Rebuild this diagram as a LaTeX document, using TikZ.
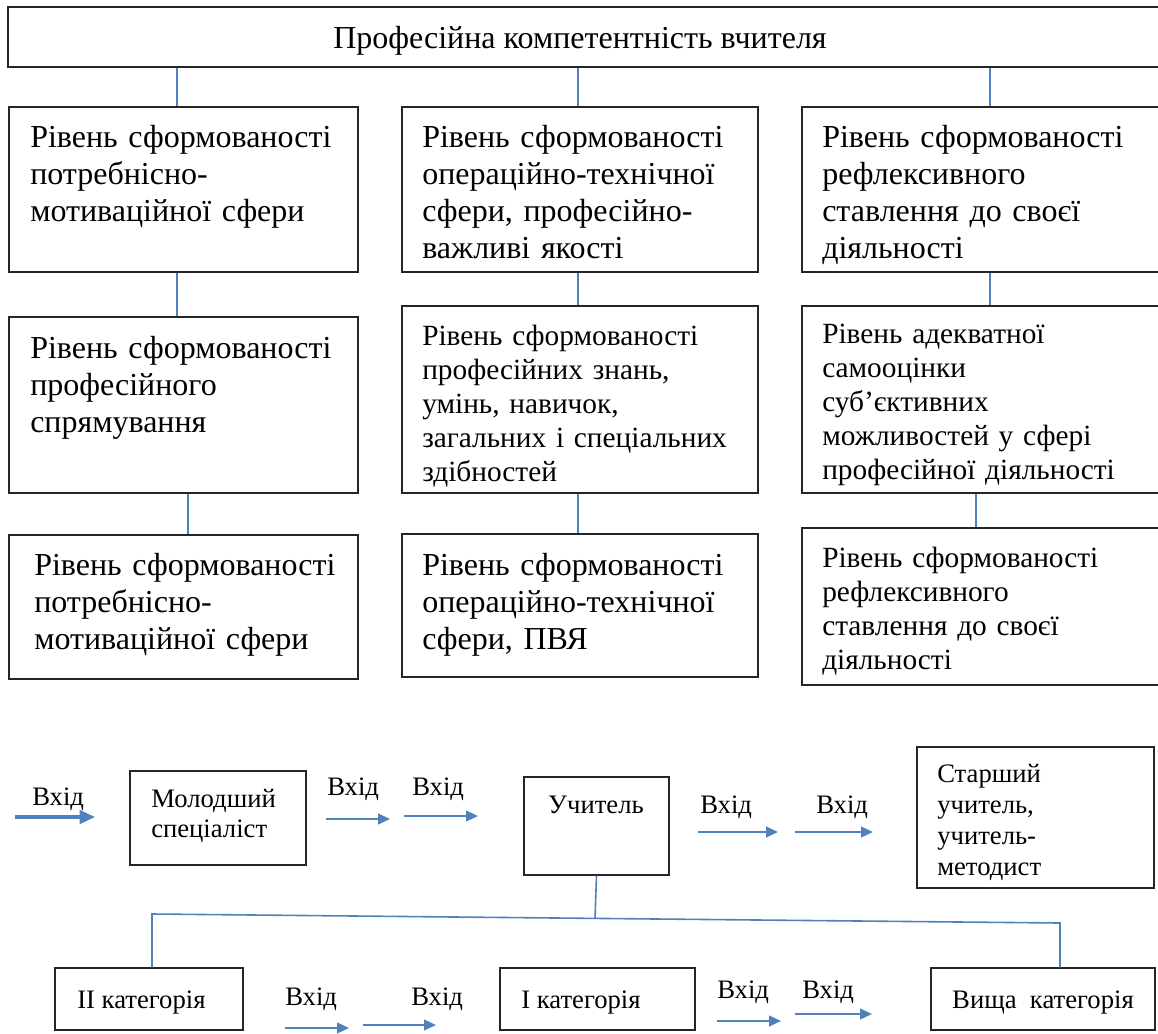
\documentclass[tikz,border=0pt]{standalone}
\usepackage{fontspec}
\setmainfont{Liberation Serif}
\usetikzlibrary{positioning, fit, arrows.meta}
\definecolor{linkblue}{RGB}{79,129,189}
\tikzset{
        box/.style={draw=black!85, line width=0.9pt, inner sep=0pt}, % frame of every block
        lvltext/.style={anchor=base west, align=left, inner sep=0pt, text width=265pt,
                font=\fontsize{24}{27.75}\selectfont},
        lvlsmall/.style={lvltext, font=\fontsize{22}{25.5}\selectfont},
        steptext/.style={anchor=base west, align=left, inner sep=0pt, text width=170pt,
                font=\fontsize{20}{23}\selectfont},
        inlabel/.style={anchor=base west, inner sep=0pt, font=\fontsize{20}{23}\selectfont},
        link/.style={draw=linkblue, line width=1.2pt}, % plain blue connector
        go/.style={draw=linkblue, line width=1.7pt, -{Triangle[length=9pt,width=8pt]}},
        biggo/.style={go, line width=2.5pt, -{Triangle[length=11.5pt,width=10pt]}},
        }

\begin{document}
\begin{tikzpicture}[x=0.75pt, y=-0.75pt]
        \useasboundingbox (0,0) rectangle (1158,1033);

        % top block
        \node[box, fit={(8,7)(1162,67)}] (top) {};
        \node[anchor=base, inner sep=0pt, font=\fontsize{24}{27.75}\selectfont] (toptext) at (580,48)
                {Професійна компетентність вчителя};

        % first row
        \node[box, fit={(9,107)(358,272)}] (b11) {};
        \node[box, fit={(402,107)(758,272)}] (b12) {};
        \node[box, fit={(802,107)(1162,272)}] (b13) {};
        \node[lvltext] (t11) at (30,147) {Рівень сформованості\\потребнісно-\\мотиваційної сфери};
        \node[lvltext] (t12) at (422,147) {Рівень сформованості\\операційно-технічної\\сфери, професійно-\\важливі якості};
        \node[lvltext] (t13) at (822,147) {Рівень сформованості\\рефлексивного\\ставлення до своєї\\діяльності};

        % second row
        \node[box, fit={(9,317)(358,493)}] (b21) {};
        \node[box, fit={(402,306)(758,493)}] (b22) {};
        \node[box, fit={(802,306)(1162,493)}] (b23) {};
        \node[lvltext] (t21) at (30,358) {Рівень сформованості\\професійного\\спрямування};
        \node[lvlsmall] (t22) at (422,345) {Рівень сформованості\\професійних знань,\\умінь, навичок,\\загальних і спеціальних\\здібностей};
        \node[lvlsmall] (t23) at (822,343) {Рівень адекватної\\самооцінки\\суб’єктивних\\можливостей у сфері\\професійної діяльності};

        % third row
        \node[box, fit={(9,535)(358,679)}] (b31) {};
        \node[box, fit={(402,534)(758,677)}] (b32) {};
        \node[box, fit={(802,528)(1162,685)}] (b33) {};
        \node[lvltext] (t31) at (34,575) {Рівень сформованості\\потребнісно-\\мотиваційної сфери};
        \node[lvltext] (t32) at (422,575) {Рівень сформованості\\операційно-технічної\\сфери, ПВЯ};
        \node[lvlsmall] (t33) at (822,567) {Рівень сформованості\\рефлексивного\\ставлення до своєї\\діяльності};

        % vertical links between the rows
        \draw[link] ([xshift=-4.9pt]b11.north) -- ([xshift=-4.9pt]b11.north |- top.south);
        \draw[link] ([xshift=-1.5pt]b12.north) -- ([xshift=-1.5pt]b12.north |- top.south);
        \draw[link] ([xshift=6pt]b13.north) -- ([xshift=6pt]b13.north |- top.south);
        \draw[link] ([xshift=-4.9pt]b21.north) -- ([xshift=-4.9pt]b21.north |- b11.south);
        \draw[link] ([xshift=-1.5pt]b22.north) -- ([xshift=-1.5pt]b22.north |- b12.south);
        \draw[link] ([xshift=6pt]b23.north) -- ([xshift=6pt]b23.north |- b13.south);
        \draw[link] ([xshift=3.4pt]b31.north) -- ([xshift=3.4pt]b31.north |- b21.south);
        \draw[link] ([xshift=-1.5pt]b32.north) -- ([xshift=-1.5pt]b32.north |- b22.south);
        \draw[link] ([xshift=-4.5pt]b33.north) -- ([xshift=-4.5pt]b33.north |- b23.south);

        % career steps
        \node[box, fit={(130,771)(306,865)}] (young) {};
        \node[steptext] (youngtext) at (151,807) {Молодший\\спеціаліст};
        \node[box, fit={(524,777)(669,875)}] (tch) {};
        \node[anchor=base, inner sep=0pt, font=\fontsize{20}{23}\selectfont] (tchtext) at (596,813) {Учитель};
        \node[box, fit={(917,747)(1154,888)}] (senior) {};
        \node[steptext, font=\fontsize{20}{23.25}\selectfont] (seniortext) at (937,782)
                {Старший\\учитель,\\учитель-\\методист};

        \node[inlabel] (in1) at (32,805) {Вхід};
        \node[inlabel] (in2) at (327,795) {Вхід};
        \node[inlabel] (in3) at (412,795) {Вхід};
        \node[inlabel] (in4) at (700,813) {Вхід};
        \node[inlabel] (in5) at (816,813) {Вхід};
        \coordinate (a1s) at (15,817);  \coordinate (a1e) at (95,817);
        \coordinate (a2s) at (326,819); \coordinate (a2e) at (390,819);
        \coordinate (a3s) at (404,816); \coordinate (a3e) at (478,816);
        \coordinate (a4s) at (698,832); \coordinate (a4e) at (778,832);
        \coordinate (a5s) at (795,832); \coordinate (a5e) at (873,832);
        \draw[biggo] (a1s) -- (a1e);
        \draw[go] (a2s) -- (a2e);
        \draw[go] (a3s) -- (a3e);
        \draw[go] (a4s) -- (a4e);
        \draw[go] (a5s) -- (a5e);

        % categories
        \node[box, fit={(55,968)(243,1030)}] (cat2) {};
        \node[inlabel] (cat2text) at (77,1008) {ІІ категорія};
        \node[box, fit={(500,968)(695,1030)}] (cat1) {};
        \node[inlabel] (cat1text) at (521,1008) {І категорія};
        \node[box, fit={(931,968)(1155,1030)}] (cat0) {};
        \node[anchor=base, inner sep=0pt, font=\fontsize{20}{23}\selectfont] (cat0text) at (1043,1008)
                {Вища\ \ категорія};

        \coordinate (fork) at (595,919);
        \coordinate (hl) at (152,914);
        \coordinate (hr) at (1060,923);
        \draw[link] (tch.south) -- (fork);
        \draw[link] ([xshift=2.25pt]cat2.north) -- (hl) -- (hr) -- ([xshift=12.75pt]cat0.north);

        \node[inlabel] (in6) at (285,1005) {Вхід};
        \node[inlabel] (in7) at (411,1005) {Вхід};
        \node[inlabel] (in8) at (717,998) {Вхід};
        \node[inlabel] (in9) at (802,998) {Вхід};
        \coordinate (a6s) at (285,1028); \coordinate (a6e) at (349,1028);
        \coordinate (a7s) at (363,1025); \coordinate (a7e) at (436,1025);
        \coordinate (a8s) at (717,1021); \coordinate (a8e) at (781,1021);
        \coordinate (a9s) at (795,1014); \coordinate (a9e) at (872,1014);
        \draw[go] (a6s) -- (a6e);
        \draw[go] (a7s) -- (a7e);
        \draw[go] (a8s) -- (a8e);
        \draw[go] (a9s) -- (a9e);
\end{tikzpicture}
\end{document}
